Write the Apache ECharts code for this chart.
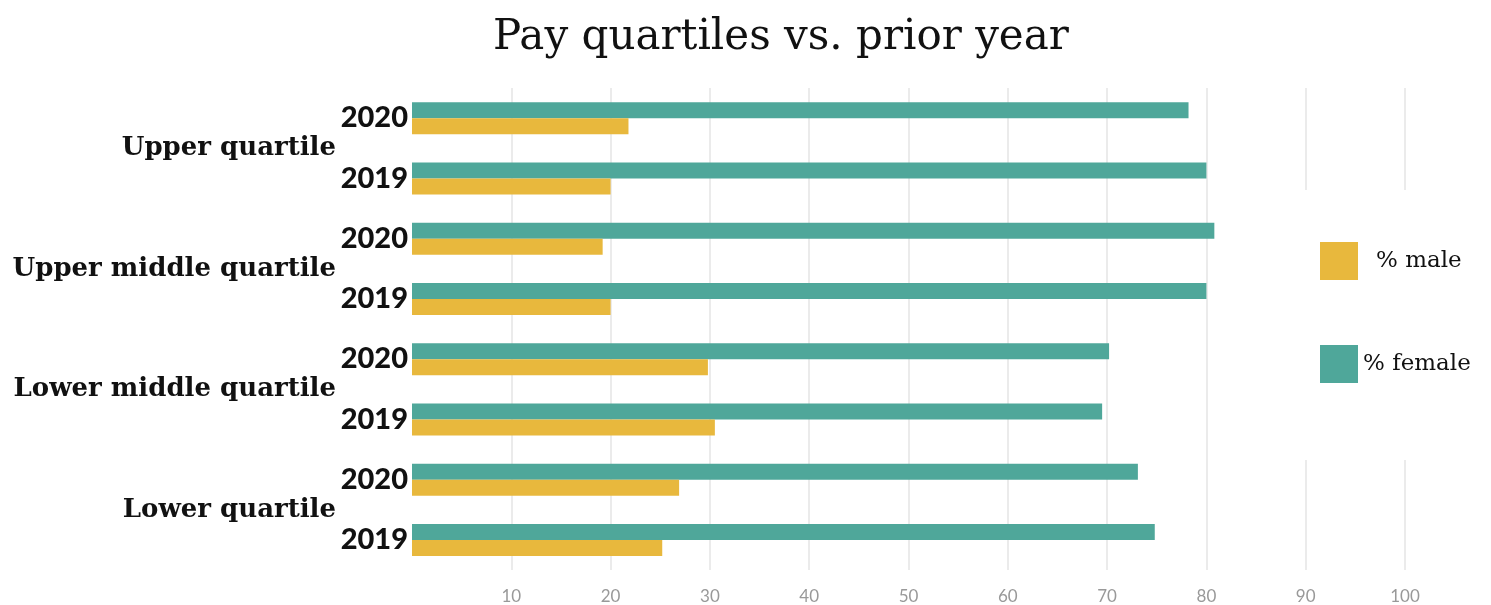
<!DOCTYPE html>
<html>
<head>
<meta charset="utf-8">
<script src="https://cdn.jsdelivr.net/npm/echarts@6/dist/echarts.min.js"></script>
<style>html,body{margin:0;padding:0;background:#fff;}#c{width:1491px;height:605px;}</style>
</head>
<body>
<div id="c"></div>
<script>
const quartiles = ['Upper quartile', 'Upper middle quartile', 'Lower middle quartile', 'Lower quartile'];
const years = ['2020', '2019', '2020', '2019', '2020', '2019', '2020', '2019'];
const female = [78.2, 80.0, 80.8, 80.0, 70.2, 69.5, 73.1, 74.8];
const male = [21.8, 20.0, 19.2, 20.0, 29.8, 30.5, 26.9, 25.2];
const xTicks = [0, 10, 20, 30, 40, 50, 60, 70, 80, 90, 100];

const chart = echarts.init(document.getElementById('c'));
chart.setOption({
  animation: false,
  backgroundColor: '#fff',
  title: {
    text: 'Pay quartiles vs. prior year',
    left: 488,
    top: 12,
    textStyle: { fontFamily: 'DejaVu Serif', fontWeight: 'normal', fontSize: 42, color: '#111' }
  },
  legend: {
    orient: 'vertical',
    left: 1290,
    top: 190,
    padding: [52, 20, 77, 30],
    backgroundColor: '#fff',
    itemWidth: 38,
    itemHeight: 38,
    itemGap: 65,
    icon: 'rect',
    data: [
      { name: '% male', textStyle: { padding: [0, 0, 0, 13] } },
      { name: '% female' }
    ],
    textStyle: { fontFamily: 'DejaVu Serif', fontSize: 23, color: '#111' }
  },
  grid: { left: 412, right: 86, top: 88, bottom: 34 },
  xAxis: {
    type: 'value',
    min: xTicks[0],
    max: xTicks[xTicks.length - 1],
    interval: 10,
    axisLine: { show: false },
    axisTick: { show: false },
    splitLine: { showMinLine: false, lineStyle: { color: '#ebebeb', width: 2 } },
    axisLabel: { showMinLabel: false, margin: 18, color: '#999', fontFamily: 'Lato', fontSize: 17 }
  },
  yAxis: [
    {
      type: 'category',
      data: years,
      inverse: true,
      axisLine: { show: false },
      axisTick: { show: false },
      axisLabel: { margin: 4, color: '#111', fontFamily: 'Lato', fontWeight: 900, fontSize: 29 }
    },
    {
      type: 'category',
      data: quartiles,
      inverse: true,
      position: 'left',
      offset: 72,
      axisLine: { show: false },
      axisTick: { show: false },
      axisLabel: { margin: 4, color: '#111', fontFamily: 'DejaVu Serif', fontWeight: 'bold', fontSize: 26 }
    }
  ],
  series: [
    {
      name: '% female',
      type: 'bar',
      yAxisIndex: 0,
      data: female,
      barWidth: 16,
      barGap: '0%',
      itemStyle: { color: '#4FA79A' }
    },
    {
      name: '% male',
      type: 'bar',
      yAxisIndex: 0,
      data: male,
      barWidth: 16,
      barGap: '0%',
      itemStyle: { color: '#E8B83D' }
    }
  ]
});
</script>
</body>
</html>
